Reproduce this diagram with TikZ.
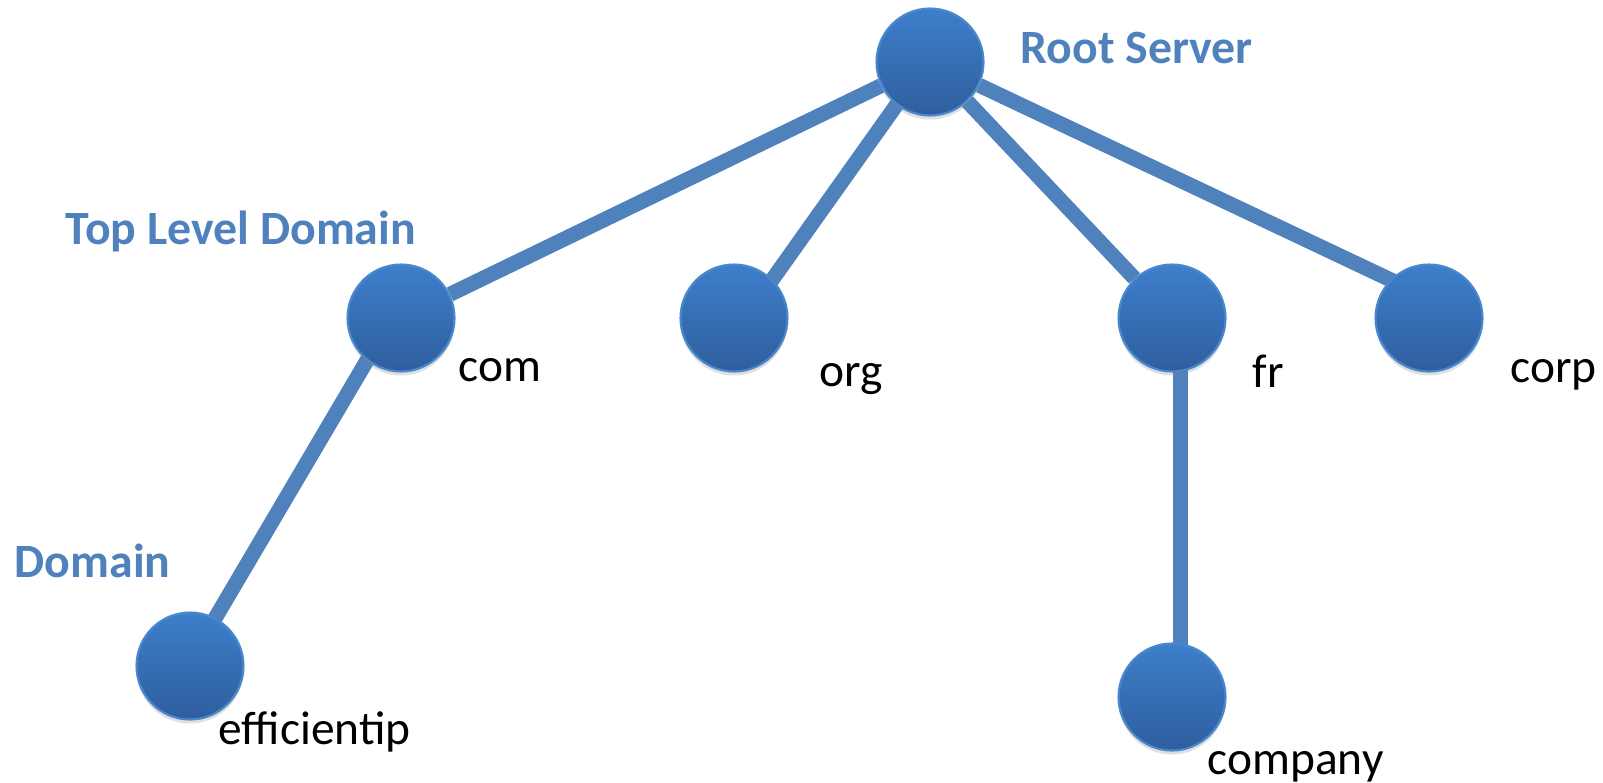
\documentclass[tikz,border=0pt]{standalone}
\usepackage{fontspec}
\setmainfont{Carlito}
\usepackage{tikz}
\usetikzlibrary{backgrounds}
\usetikzlibrary{shadows}
\definecolor{linkblue}{RGB}{79,129,189}
\definecolor{nodetop}{RGB}{61,127,203}
\definecolor{nodebot}{RGB}{47,94,158}
\definecolor{nodeedge}{RGB}{74,136,206}
\tikzset{dns/.style={circle,minimum size=1.07cm,inner sep=0pt,top color=nodetop,bottom color=nodebot,draw=nodeedge,line width=0.6pt,drop shadow={opacity=0.25,shadow xshift=0pt,shadow yshift=-0.04cm}}}
\tikzset{link/.style={linkblue,line width=0.15cm}}
\tikzset{l/.style={font=\fontsize{13.5}{16}\selectfont,anchor=base west,inner sep=0pt}}
\tikzset{lvl/.style={l,font=\fontsize{13.6}{16}\selectfont\bfseries,text=linkblue}}

\begin{document}
\begin{tikzpicture}
        \useasboundingbox (0,0) rectangle (16.03,-7.82);
        \node[dns] (root) at (9.30,-0.62) {};
        \node[dns] (com) at (4.01,-3.18) {};
        \node[dns] (org) at (7.34,-3.18) {};
        \node[dns] (fr) at (11.72,-3.18) {};
        \node[dns] (corp) at (14.29,-3.18) {};
        \node[dns] (eff) at (1.90,-6.66) {};
        \node[dns] (company) at (11.72,-6.97) {};
        \begin{scope}[on background layer]
          \draw[link] (root) -- (com);
          \draw[link] ([xshift=-0.03cm]root.center) -- ([xshift=0.11cm]org.center);
          \draw[link] (root) -- (fr);
          \draw[link] (root) -- ([yshift=0.2cm]corp.center);
          \draw[link] ([xshift=-0.09cm]com.center) -- ([xshift=-0.03cm]eff.center);
          \draw[link] ([xshift=0.08cm]fr.center) -- ([xshift=0.08cm]company.center);
        \end{scope}
        % levels
        \node[lvl] (rootlbl) at (10.20,-0.63) {Root Server};
        \node[lvl] (tldlbl) at (0.65,-2.44) {Top Level Domain};
        \node[lvl] (domlbl) at (0.14,-5.77) {Domain};
        % names
        \node[l] (comlbl) at (4.58,-3.81) {com};
        \node[l] (orglbl) at (8.19,-3.86) {org};
        \node[l] (frlbl) at (12.52,-3.87) {fr};
        \node[l] (corplbl) at (15.10,-3.82) {corp};
        \node[l] (efflbl) at (2.18,-7.44) {efficientip};
        \node[l] (complbl) at (12.07,-7.74) {company};
      \end{tikzpicture}
\end{document}
